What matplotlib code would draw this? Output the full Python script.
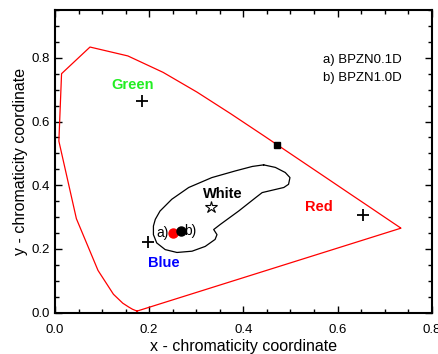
import numpy as np
import matplotlib.pyplot as plt

plt.rcParams['font.family'] = ['Liberation Sans', 'DejaVu Sans']

# CIE 1931 spectral locus (x, y) as drawn in the chart
locus_x = [0.1741, 0.1644, 0.1566, 0.1440, 0.1241, 0.0913, 0.0454, 0.0082, 0.0139,
           0.0743, 0.1547, 0.2296, 0.3016, 0.3731, 0.4441, 0.5125, 0.5752, 0.6270,
           0.6658, 0.6915, 0.7079, 0.7190, 0.7260, 0.7300, 0.7334, 0.7347, 0.1741]
locus_y = [0.0050, 0.0109, 0.0177, 0.0297, 0.0578, 0.1327, 0.2950, 0.5384, 0.7502,
           0.8338, 0.8059, 0.7543, 0.6923, 0.6245, 0.5547, 0.4866, 0.4242, 0.3725,
           0.3340, 0.3083, 0.2920, 0.2809, 0.2740, 0.2700, 0.2666, 0.2653, 0.0050]

# white region outline
white_x = [0.443, 0.468, 0.489, 0.499, 0.496, 0.486, 0.440, 0.426, 0.390, 0.351,
           0.337, 0.344, 0.340, 0.319, 0.291, 0.259, 0.234, 0.216, 0.209, 0.209,
           0.213, 0.223, 0.248, 0.284, 0.333, 0.383, 0.419, 0.443]
white_y = [0.464, 0.456, 0.440, 0.424, 0.403, 0.393, 0.377, 0.361, 0.319, 0.277,
           0.261, 0.245, 0.230, 0.208, 0.193, 0.189, 0.198, 0.219, 0.245, 0.272,
           0.293, 0.319, 0.356, 0.393, 0.424, 0.445, 0.459, 0.464]

# primaries (+ markers)
prim_x = [0.185, 0.655, 0.197]
prim_y = [0.665, 0.308, 0.221]

white_pt = (0.332, 0.333)
square_pt = (0.472, 0.526)

# samples
sample_a = (0.250, 0.251)
sample_b = (0.267, 0.257)

fig = plt.figure(figsize=(4.38, 3.54), dpi=100)
ax = fig.add_axes([0.1256, 0.1167, 0.86, 0.855])

ax.plot(locus_x, locus_y, color='red', lw=0.9)
ax.plot(white_x, white_y, color='black', lw=0.9)

ax.plot(prim_x, prim_y, '+', color='black', ms=9, mew=1.3, ls='none')
ax.plot(*white_pt, marker='*', mfc='white', mec='black', ms=9, mew=0.8, ls='none')
ax.plot(*square_pt, marker='s', color='black', ms=5, ls='none')
ax.plot(*sample_a, 'o', color='red', ms=6.5)
ax.plot(*sample_b, 'o', color='black', ms=6.5)

ax.text(0.242, 0.250, 'a)', fontsize=10, ha='right', va='center')
ax.text(0.275, 0.257, 'b)', fontsize=10, ha='left', va='center')

ax.text(0.164, 0.716, 'Green', color='#22ee22', fontsize=10.5, fontweight='bold',
        ha='center', va='center')
ax.text(0.560, 0.331, 'Red', color='red', fontsize=10.5, fontweight='bold',
        ha='center', va='center')
ax.text(0.232, 0.156, 'Blue', color='blue', fontsize=10.5, fontweight='bold',
        ha='center', va='center')
ax.text(0.357, 0.372, 'White', color='black', fontsize=10.5, fontweight='bold',
        ha='center', va='center')

ax.text(0.570, 0.793, 'a) BPZN0.1D', fontsize=9.5, ha='left', va='center')
ax.text(0.570, 0.738, 'b) BPZN1.0D', fontsize=9.5, ha='left', va='center')

ax.set_xlim(0, 0.8)
ax.set_ylim(0, 0.95)
ax.set_xticks(np.arange(0, 0.81, 0.2))
ax.set_yticks(np.arange(0, 0.81, 0.2))
ax.set_xticks(np.arange(0, 0.81, 0.05), minor=True)
ax.set_yticks(np.arange(0, 0.951, 0.05), minor=True)
ax.xaxis.set_major_formatter(plt.FormatStrFormatter('%.1f'))
ax.yaxis.set_major_formatter(plt.FormatStrFormatter('%.1f'))
ax.tick_params(which='both', direction='in', top=True, right=True, labelsize=9.5)
ax.tick_params(which='major', length=5, width=1)
ax.tick_params(which='minor', length=3, width=1)
ax.tick_params(axis='x', pad=8)
for s in ax.spines.values():
    s.set_linewidth(1.5)

ax.set_xlabel('x - chromaticity coordinate', fontsize=11.5, labelpad=2)
ax.set_ylabel('y - chromaticity coordinate', fontsize=11.5, labelpad=3)

fig.savefig('out.png', dpi=100)
